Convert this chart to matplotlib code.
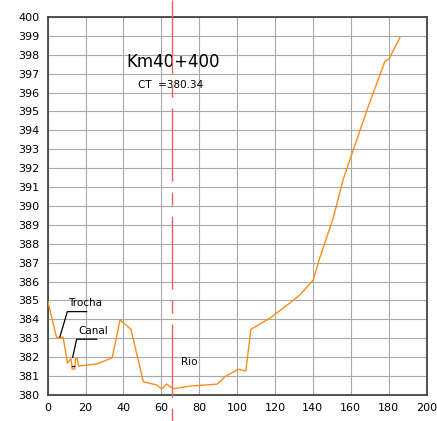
import numpy as np
import matplotlib.pyplot as plt
import matplotlib.transforms as mtransforms

# profile (distance, elevation)
dist = [0, 4.7, 8.2, 10.5, 12.3, 13.0, 14.4, 14.8, 15.6, 16.3, 25.8, 34.1, 38.2, 44.0,
        50.5, 57.5, 60.2, 62.8, 66.3, 76.0, 89.2, 91.0, 93.6, 100.6, 104.6, 107.3,
        117.3, 128.8, 133.1, 140.2, 143.3, 150.7, 156.0, 159.5, 169.2, 178.0, 180.3, 185.9]
elev = [385.0, 383.05, 383.05, 381.68, 381.94, 381.37, 381.37, 381.94, 381.94, 381.53,
        381.64, 381.97, 383.97, 383.47, 380.7, 380.53, 380.32, 380.58, 380.33, 380.48,
        380.57, 380.7, 380.97, 381.36, 381.27, 383.47, 384.06, 384.94, 385.29, 386.08,
        387.14, 389.35, 391.4, 392.43, 395.25, 397.64, 397.8, 398.9]

axis_x = 65.9
title = "Km40+400"
ct_label = "CT  =380.34"

fig = plt.figure(figsize=(4.37, 4.21), dpi=100)
ax = fig.add_axes([0.109, 0.0618, 0.867, 0.898])

ax.plot(dist, elev, color='#ff8c1a', lw=1.0, zorder=3)

ax.set_xlim(0, 200)
ax.set_ylim(380, 400)
ax.set_xticks(np.arange(0, 201, 20))
ax.set_yticks(np.arange(380, 401, 1))
ax.grid(True, color='#a8a8a8', lw=0.8)
ax.tick_params(length=0, labelsize=8, pad=6)
for s in ax.spines.values():
    s.set_color('#444444')
    s.set_linewidth(1.3)

# red dash-dot centre line, top to bottom of the figure
trans = mtransforms.blended_transform_factory(ax.transData, fig.transFigure)
ax.plot([axis_x, axis_x], [1, 0], transform=trans, color='#ec6060', lw=1.0,
        dashes=(52.6, 7.9, 9.4, 7.9), clip_on=False, zorder=4)

ax.text(41.8, 397.62, title, fontsize=12, va='center', ha='left')
ax.text(47.7, 396.4, ct_label, fontsize=7.5, va='center', ha='left')
ax.text(70.4, 381.75, "Rio", fontsize=7.5, va='center', ha='left')

# leaders
ax.plot([6.5, 10.4, 20.6], [383.08, 384.41, 384.41], color='black', lw=0.9, zorder=5)
ax.text(10.7, 384.87, "Trocha", fontsize=7.5, va='center', ha='left')
ax.plot([13.2, 15.3, 25.9], [381.99, 382.95, 382.95], color='black', lw=0.9, zorder=5)
ax.text(16.0, 383.39, "Canal", fontsize=7.5, va='center', ha='left')
ax.plot([12.6, 13.8], [381.53, 381.53], color='black', lw=0.9, zorder=5)

fig.savefig('out.png', dpi=100)
